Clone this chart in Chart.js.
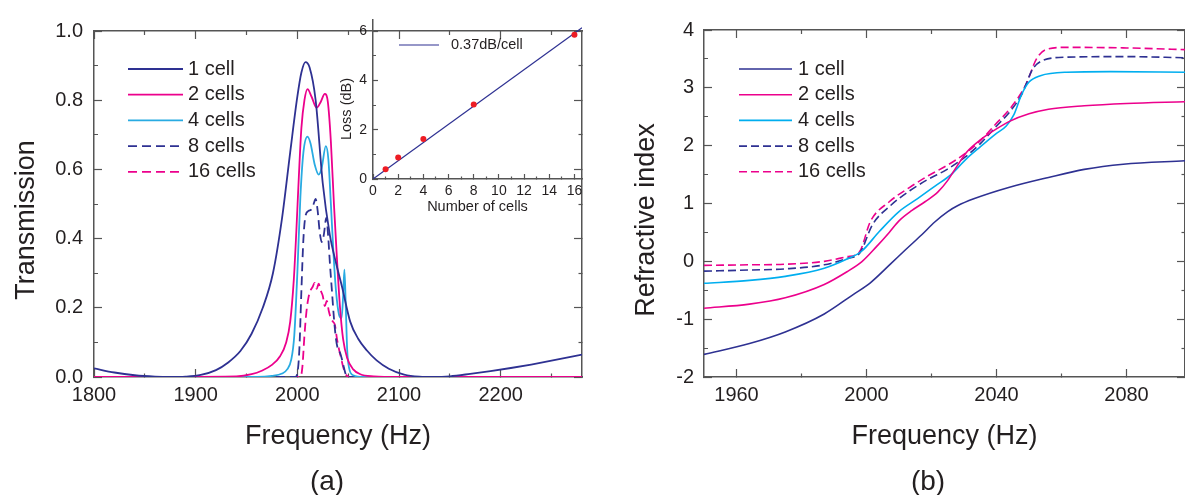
<!DOCTYPE html>
<html>
<head>
<meta charset="utf-8">
<script src="https://cdn.jsdelivr.net/npm/chart.js@4.4.1/dist/chart.umd.min.js"></script>
<style>
  html, body { margin: 0; padding: 0; background: #fff; }
  #wrap { position: relative; width: 1185px; height: 495px; overflow: hidden; }
  canvas { position: absolute; top: 0; }
  #transChart { left: 0; width: 592px; height: 495px; }
  #lossChart { left: 330px; width: 262px; height: 230px; }
  #indexChart { left: 600px; width: 595px; height: 495px; }
</style>
</head>
<body>
<div id="wrap">
  <canvas id="transChart" width="592" height="495"></canvas>
  <canvas id="indexChart" width="595" height="495"></canvas>
  <canvas id="lossChart" width="262" height="230"></canvas>
</div>
<script>
// ---- (a) transmission ----
const freqOne = [1800,1820,1840,1860,1875,1890,1905,1920,1932,1944,1955,1966,1976,1985,1993,2000,2004,2008,2012,2018,
                 2025,2032,2038,2044,2052,2060,2068,2078,2090,2105,2120,2135,2150,2170,2190,2210,2230,2250,2265,2280];
const transOne = [0.025,0.013,0.005,0.001,0,0.001,0.006,0.02,0.042,0.075,0.125,0.2,0.3,0.46,0.65,0.81,0.88,0.91,0.895,0.8,
                  0.56,0.41,0.33,0.26,0.16,0.11,0.078,0.048,0.024,0.007,0.001,0,0.002,0.009,0.017,0.026,0.036,0.047,0.056,0.065];
const freqTwo = [1800,1940,1955,1965,1975,1983,1989,1993,1996.5,1999,2001.5,2004,2007,2010,2014,2019,2023,2027,2030,2033,
                 2036,2039,2042,2045,2049,2055,2062,2075,2100,2280];
const transTwo = [0,0.002,0.008,0.018,0.035,0.06,0.1,0.16,0.28,0.42,0.58,0.72,0.8,0.832,0.81,0.778,0.795,0.818,0.795,0.68,
                  0.5,0.34,0.2,0.11,0.055,0.022,0.008,0.002,0,0];
const freqFour = [1800,1960,1975,1985,1990,1994,1997,2000,2003,2006,2010,2013,2017,2021,2024,2028,2030.5,2033,2035.5,2038,
                  2041,2043.5,2045,2046.3,2047.5,2049,2051,2055,2065,2280];
const transFour = [0,0,0.003,0.01,0.022,0.05,0.12,0.3,0.52,0.65,0.695,0.675,0.615,0.585,0.605,0.667,0.63,0.5,0.36,0.25,
                   0.18,0.17,0.23,0.31,0.22,0.08,0.025,0.005,0,0];
const freqEight = [1800,1998,2000,2002,2004,2006,2008,2011,2014,2016,2018,2020,2022,2024,2026,2028.5,2030.5,2032,2034,2036,
                   2038,2040,2042,2044,2046,2048,2050,2280];
const transEight = [0,0,0.01,0.08,0.25,0.4,0.465,0.48,0.485,0.5,0.515,0.48,0.42,0.39,0.41,0.46,0.4,0.33,0.25,0.17,
                    0.11,0.08,0.07,0.05,0.025,0.005,0,0];
const freqSixteen = [1800,2003,2005,2007,2009,2011,2013,2015,2017,2019,2021,2023,2025,2027,2029,2031,2033,2035,2037,2039,
                     2041,2043,2045,2047,2049,2051,2280];
const transSixteen = [0,0,0.03,0.12,0.19,0.23,0.25,0.26,0.272,0.255,0.27,0.25,0.235,0.205,0.22,0.19,0.17,0.16,0.15,0.11,
                      0.08,0.055,0.03,0.012,0.003,0,0];

// inset: loss vs number of cells
const cellCount = [1, 2, 4, 8, 16];
const lossDb = [0.4, 0.87, 1.62, 3.02, 5.85];
const fitCells = [0, 16.6];
const fitLoss = [0, 6.14];

// ---- (b) refractive index ----
const freqIdxOne = [1950,1964,1975,1987,1996,2001,2007.5,2012,2017,2021,2025,2028,2033,2044,2056,2067,2079,2098];
const indexOne = [-1.61,-1.42,-1.22,-0.91,-0.57,-0.38,-0.04,0.2,0.46,0.68,0.86,0.96,1.08,1.28,1.45,1.59,1.68,1.74];
const freqIdxTwo = [1950,1964,1975,1987,1994,1998.5,2003,2007,2010,2014,2018,2022,2025,2028,2031,2035,2040,2044,2050,2056,2067,2080,2098];
const indexTwo = [-0.81,-0.74,-0.63,-0.40,-0.18,-0.01,0.25,0.50,0.70,0.88,1.03,1.2,1.4,1.66,1.9,2.1,2.29,2.42,2.55,2.63,2.69,2.73,2.76];
const freqIdxFour = [1950,1964,1975,1987,1994,1998.4,2004,2010,2015.6,2021.3,2026,2030.5,2035,2039.7,2043,2045.4,2047.7,2050,2053.5,2061.5,2075,2098];
const indexFour = [-0.38,-0.33,-0.26,-0.12,0.04,0.17,0.52,0.86,1.08,1.31,1.50,1.76,1.98,2.20,2.34,2.54,2.88,3.10,3.21,3.27,3.28,3.27];
const freqIdxEight = [1950,1964,1975,1987,1994,1998,2001.8,2007.5,2013.3,2019,2024.8,2030.5,2035.1,2039.7,2044.3,2047.7,2051.2,2054.1,2061.5,2080,2098];
const indexEight = [-0.17,-0.15,-0.13,-0.06,0.05,0.15,0.63,0.97,1.22,1.42,1.59,1.81,2.04,2.32,2.60,2.88,3.33,3.47,3.53,3.54,3.52];
const freqIdxSixteen = [1950,1964,1975,1987,1994,1997.8,2001.2,2007,2013.3,2019,2024.8,2030.5,2035.1,2039.7,2044.3,2049,2052.3,2055.2,2061.5,2080,2098];
const indexSixteen = [-0.07,-0.06,-0.05,0.0,0.08,0.16,0.69,1.03,1.28,1.48,1.66,1.87,2.09,2.37,2.65,3.05,3.50,3.66,3.70,3.69,3.66];

// ticks (all) and the labelled ones
const freqTicksA = [1800,1850,1900,1950,2000,2050,2100,2150,2200,2250];
const freqLabelsA = [1800,1900,2000,2100,2200];
const transTicks = [0,0.1,0.2,0.3,0.4,0.5,0.6,0.7,0.8,0.9,1.0];
const transLabels = [0,0.2,0.4,0.6,0.8,1.0];
const cellTicks = [0,1,2,3,4,5,6,7,8,9,10,11,12,13,14,15,16];
const cellLabels = [0,2,4,6,8,10,12,14,16];
const lossTicks = [0,1,2,3,4,5,6];
const lossLabels = [0,2,4,6];
const freqTicksB = [1960,1980,2000,2020,2040,2060,2080];
const freqLabelsB = [1960,2000,2040,2080];
const indexTicks = [-2,-1.5,-1,-0.5,0,0.5,1,1.5,2,2.5,3,3.5,4];
const indexLabels = [-2,-1,0,1,2,3,4];

const NAVY = '#2e3192', MAGENTA = '#ec008c', CYAN = '#29abe2', CYAN_B = '#00aeef', RED = '#ed1c24';
const FRAME = '#555', INK = '#231f20';
const FONT = '"Liberation Sans", Arial, Helvetica, sans-serif';

Chart.defaults.font.family = FONT;
Chart.defaults.color = INK;

function curve(label, xs, ys, color, width, dash) {
    return {
        label,
        data: xs.map((x, i) => ({ x, y: ys[i] })),
        borderColor: color,
        borderWidth: width,
        borderDash: dash || [],
        pointRadius: 0,
        fill: false,
        cubicInterpolationMode: 'monotone'
    };
}

// axis with inward ticks; minor ticks are shortened with a dash pattern
function frameAxis(position, min, max, tickVals, labelVals, o) {
    const horizontal = position === 'top' || position === 'bottom';
    const innerFirst = position === 'top' || position === 'left';
    const isMajor = v => labelVals.some(l => Math.abs(l - v) < 1e-6);
    const cfg = {
        type: 'linear',
        position, min, max,
        afterBuildTicks: s => { s.ticks = tickVals.map(v => ({ value: v })); },
        afterFit: s => { if (horizontal) s.height = o.size || 0; else s.width = o.size || 0; },
        border: { display: true, color: FRAME, width: 1.5 },
        grid: {
            drawOnChartArea: false,
            tickLength: -o.major,
            tickColor: FRAME,
            tickWidth: 1.2,
            tickBorderDash: c => (c.tick && isMajor(c.tick.value)) ? [] :
                (innerFirst ? [0, o.major - o.minor, o.minor, 60] : [o.minor, 60])
        },
        ticks: {
            display: !!o.fmt,
            autoSkip: false,
            maxRotation: 0,
            minRotation: 0,
            padding: o.pad || 0,
            color: INK,
            font: { size: o.font || 20 },
            callback: v => (o.fmt && isMajor(v)) ? o.fmt(v) : ''
        }
    };
    if (o.title) {
        cfg.title = { display: true, text: o.title, color: INK, font: { size: o.titleSize },
                      padding: { top: 0, bottom: o.titlePad } };
    }
    return cfg;
}

// line key and free text (rotated y titles, panel tags)
const annotate = {
    id: 'annotate',
    afterDraw(chart, args, o) {
        const ctx = chart.ctx;
        ctx.save();
        ctx.fillStyle = INK;
        ctx.textBaseline = 'middle';
        if (o.key) {
            const k = o.key;
            let row = 0;
            chart.data.datasets.forEach(ds => {
                if (!ds.label) return;
                const y = k.y + row * k.dy;
                ctx.strokeStyle = ds.borderColor;
                ctx.lineWidth = ds.borderWidth;
                ctx.setLineDash(ds.borderDash || []);
                ctx.beginPath();
                ctx.moveTo(k.x, y);
                ctx.lineTo(k.x + k.len, y);
                ctx.stroke();
                ctx.setLineDash([]);
                ctx.font = k.font;
                ctx.textAlign = 'left';
                ctx.fillText(ds.label, k.x + k.len + k.gap, y);
                row++;
            });
        }
        (o.texts || []).forEach(t => {
            ctx.save();
            ctx.font = t.font;
            ctx.textAlign = 'center';
            ctx.translate(t.x, t.y);
            if (t.rotate) ctx.rotate(-Math.PI / 2);
            ctx.fillText(t.text, 0, 0);
            ctx.restore();
        });
        ctx.restore();
    }
};

const baseOptions = {
    responsive: false,
    animation: false,
    devicePixelRatio: 1,
    events: []
};

// panel (a)
new Chart(document.getElementById('transChart'), {
    type: 'line',
    data: {
        datasets: [
            curve('1 cell', freqOne, transOne, NAVY, 1.8),
            curve('2 cells', freqTwo, transTwo, MAGENTA, 1.8),
            curve('4 cells', freqFour, transFour, CYAN, 1.8),
            curve('8 cells', freqEight, transEight, NAVY, 1.8, [9, 5]),
            curve('16 cells', freqSixteen, transSixteen, MAGENTA, 1.8, [9, 5])
        ]
    },
    options: {
        ...baseOptions,
        layout: { padding: { top: 20, right: 10, left: 0, bottom: 0 } },
        plugins: {
            legend: { display: false },
            tooltip: { enabled: false },
            annotate: {
                key: { x: 128, y: 69, dy: 25.7, len: 55, gap: 5, font: '20px ' + FONT },
                texts: [
                    { text: 'Transmission', x: 27, y: 220, rotate: true, font: '27px ' + FONT },
                    { text: '(a)', x: 327, y: 482, font: '28px ' + FONT }
                ]
            }
        },
        scales: {
            x: frameAxis('bottom', 1800, 2280, freqTicksA, freqLabelsA,
                { size: 118, major: 8, minor: 4, pad: 14, fmt: v => String(v),
                  title: 'Frequency (Hz)', titleSize: 27, titlePad: 41.8 }),
            xTop: frameAxis('top', 1800, 2280, freqTicksA, freqLabelsA, { size: 0, major: 8, minor: 4 }),
            y: frameAxis('left', 0, 1, transTicks, transLabels,
                { size: 94, major: 8, minor: 4, pad: 19, fmt: v => v.toFixed(1) }),
            yRight: frameAxis('right', 0, 1, transTicks, transLabels, { size: 0, major: 8, minor: 4 })
        }
    },
    plugins: [annotate]
});

// inset of panel (a)
new Chart(document.getElementById('lossChart'), {
    type: 'line',
    data: {
        datasets: [
            {
                data: cellCount.map((c, i) => ({ x: c, y: lossDb[i] })),
                showLine: false,
                pointRadius: 3,
                pointBorderWidth: 0,
                pointBackgroundColor: RED,
                borderColor: RED
            },
            {
                label: '0.37dB/cell',
                data: fitCells.map((c, i) => ({ x: c, y: fitLoss[i] })),
                borderColor: NAVY,
                borderWidth: 1.2,
                pointRadius: 0
            }
        ]
    },
    options: {
        ...baseOptions,
        layout: { padding: { top: 20, right: 10, left: 0, bottom: 0 } },
        plugins: {
            legend: { display: false },
            tooltip: { enabled: false },
            annotate: {
                key: { x: 69, y: 45, dy: 0, len: 40, gap: 12, font: '14.5px ' + FONT },
                texts: [{ text: 'Loss (dB)', x: 17, y: 109, rotate: true, font: '14.5px ' + FONT }]
            }
        },
        scales: {
            x: frameAxis('bottom', 0, 16.6, cellTicks, cellLabels,
                { size: 51, major: 5, minor: 3, pad: 9, font: 14, fmt: v => String(v),
                  title: 'Number of cells', titleSize: 14.5, titlePad: 14.6 }),
            y: frameAxis('left', 0, 6.45, lossTicks, lossLabels,
                { size: 43, major: 5, minor: 3, pad: 11, font: 14, fmt: v => String(v) })
        }
    },
    plugins: [annotate]
});

// panel (b)
new Chart(document.getElementById('indexChart'), {
    type: 'line',
    data: {
        datasets: [
            curve('1 cell', freqIdxOne, indexOne, NAVY, 1.6),
            curve('2 cells', freqIdxTwo, indexTwo, MAGENTA, 1.6),
            curve('4 cells', freqIdxFour, indexFour, CYAN_B, 1.6),
            curve('8 cells', freqIdxEight, indexEight, NAVY, 1.6, [8, 4]),
            curve('16 cells', freqIdxSixteen, indexSixteen, MAGENTA, 1.6, [8, 4])
        ]
    },
    options: {
        ...baseOptions,
        layout: { padding: { top: 20, right: 10, left: 0, bottom: 0 } },
        plugins: {
            legend: { display: false },
            tooltip: { enabled: false },
            annotate: {
                key: { x: 139, y: 69, dy: 25.7, len: 53, gap: 6, font: '20px ' + FONT },
                texts: [
                    { text: 'Refractive index', x: 47, y: 220, rotate: true, font: '27px ' + FONT },
                    { text: '(b)', x: 328, y: 482, font: '28px ' + FONT }
                ]
            }
        },
        scales: {
            x: frameAxis('bottom', 1950, 2098, freqTicksB, freqLabelsB,
                { size: 118, major: 8, minor: 4, pad: 14, fmt: v => String(v),
                  title: 'Frequency (Hz)', titleSize: 27, titlePad: 41.8 }),
            xTop: frameAxis('top', 1950, 2098, freqTicksB, freqLabelsB, { size: 0, major: 8, minor: 4 }),
            y: frameAxis('left', -2, 4, indexTicks, indexLabels,
                { size: 104, major: 8, minor: 4, pad: 18, fmt: v => String(v) }),
            yRight: frameAxis('right', -2, 4, indexTicks, indexLabels, { size: 0, major: 8, minor: 4 })
        }
    },
    plugins: [annotate]
});
</script>
</body>
</html>
